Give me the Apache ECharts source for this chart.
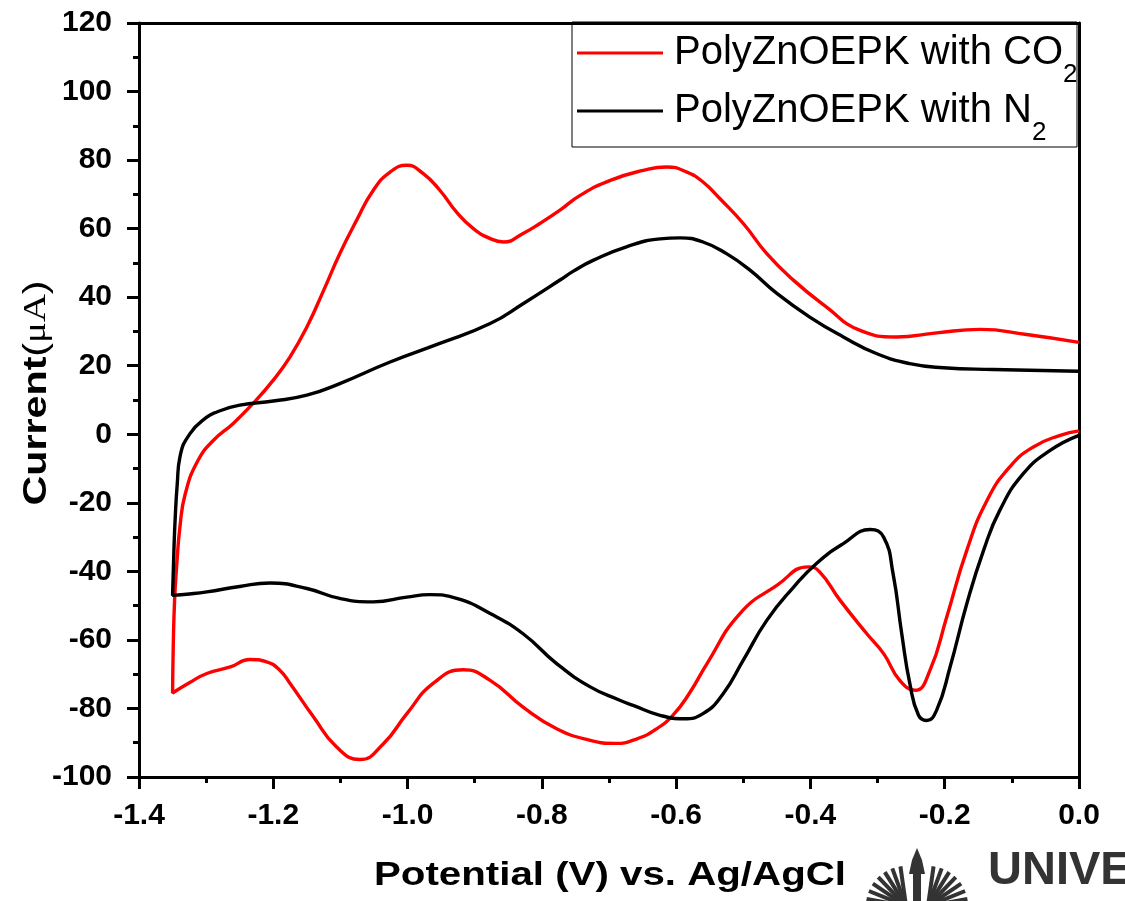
<!DOCTYPE html>
<html>
<head>
<meta charset="utf-8">
<script src="https://cdn.jsdelivr.net/npm/echarts@6/dist/echarts.min.js"></script>
<style>
  html, body { margin: 0; padding: 0; background: #fff; }
  #chart { width: 1125px; height: 901px; }
</style>
</head>
<body>
<div id="chart"></div>
<script>
// Cyclic voltammograms: upper (anodic) branch from 0 V down to -1.35 V, then the lower branch back to 0 V.
const co2Potential = [
  0.000, -0.078, -0.147, -0.212, -0.272, -0.326, -0.376, -0.425, -0.465, -0.500,
  -0.535, -0.560, -0.584, -0.614, -0.649, -0.698, -0.743, -0.773, -0.803, -0.828,
  -0.857, -0.877, -0.902, -0.927, -0.952, -0.977, -1.001, -1.026, -1.051, -1.076,
  -1.101, -1.125, -1.150, -1.175, -1.200, -1.230, -1.260, -1.289, -1.312, -1.331,
  -1.339, -1.344, -1.347, -1.349, -1.350,
  -1.325, -1.299, -1.264, -1.235, -1.210, -1.190, -1.175, -1.140, -1.106, -1.071,
  -1.036, -1.001, -0.962, -0.917, -0.877, -0.828, -0.778, -0.728, -0.690, -0.660,
  -0.632, -0.605, -0.580, -0.554, -0.505, -0.450, -0.403, -0.386, -0.356, -0.316,
  -0.291, -0.267, -0.244, -0.222, -0.197, -0.167, -0.137, -0.103, -0.068, -0.028,
  0.000
];
const co2Current = [
  26.8, 29.1, 30.6, 29.6, 28.4, 30.3, 37.1, 44.9, 52.7, 61.5,
  68.8, 73.6, 76.5, 78.0, 77.0, 74.1, 69.7, 65.4, 61.5, 58.6,
  56.1, 57.1, 60.0, 64.8, 71.2, 76.1, 78.5, 76.5, 71.2, 62.4,
  52.7, 42.0, 31.3, 22.6, 15.8, 9.0, 3.1, -1.75, -7.6, -17.3,
  -27.0, -38.7, -48.4, -62.0, -75.5,
  -72.5, -69.8, -67.9, -65.7, -66.4, -68.9, -72.7, -82.5, -91.2, -94.9,
  -90.3, -81.5, -72.7, -68.7, -71.8, -79.6, -85.9, -89.3, -90.2, -89.0,
  -86.3, -82.0, -75.5, -66.9, -52.3, -44.1, -38.7, -40.2, -48.4, -58.2,
  -64.0, -71.8, -74.7, -68.9, -53.3, -33.8, -19.3, -9.5, -3.7, -0.3,
  1.0
];

const n2Potential = [
  0.000, -0.128, -0.202, -0.252, -0.301, -0.351, -0.401, -0.450, -0.490, -0.525,
  -0.560, -0.594, -0.624, -0.674, -0.723, -0.753, -0.773, -0.828, -0.877, -0.952,
  -1.026, -1.101, -1.150, -1.200, -1.250, -1.284, -1.299, -1.324, -1.339, -1.343,
  -1.346, -1.348, -1.350,
  -1.325, -1.299, -1.250, -1.205, -1.150, -1.101, -1.051, -1.001, -0.967, -0.927,
  -0.877, -0.828, -0.778, -0.728, -0.684, -0.664, -0.624, -0.589, -0.560, -0.530,
  -0.500, -0.465, -0.425, -0.391, -0.351, -0.311, -0.291, -0.277, -0.264, -0.252,
  -0.239, -0.227, -0.212, -0.192, -0.167, -0.142, -0.118, -0.083, -0.043, 0.000
];
const n2Current = [
  18.4, 18.9, 19.4, 20.6, 23.5, 28.4, 34.2, 41.1, 47.9, 52.7,
  56.1, 57.3, 57.0, 54.7, 50.8, 47.6, 45.0, 38.1, 32.3, 26.5,
  21.1, 14.8, 11.4, 9.7, 8.5, 6.5, 5.0, 0.2, -6.6, -14.4,
  -24.1, -33.8, -47.0,
  -46.6, -46.0, -44.4, -43.4, -45.0, -47.9, -48.9, -47.5, -46.8, -47.9,
  -52.3, -58.2, -66.9, -73.7, -77.6, -79.1, -82.0, -83.0, -81.5, -75.7,
  -65.9, -54.3, -44.6, -37.7, -31.9, -27.8, -30.0, -40.6, -58.2, -72.7,
  -82.0, -83.5, -80.5, -67.9, -49.4, -33.8, -22.2, -11.5, -4.7, -0.3
];

const seriesNames = ['PolyZnOEPK with CO2', 'PolyZnOEPK with N2'];
const seriesColors = ['#ff0000', '#000000'];

const xTicks = { min: -1.4, max: 0, interval: 0.2 };
const yTicks = { min: -100, max: 120, interval: 20 };

const xTitle = 'Potential (V) vs. Ag/AgCl';
const yTitle = ['Current', '(', 'μA', ')'];

function pairs(xs, ys) {
  return xs.map((x, i) => [x, ys[i]]);
}

const FONT = '"Liberation Sans", Arial, Helvetica, sans-serif';
const SERIF = '"Liberation Serif", "Times New Roman", serif';

const chart = echarts.init(document.getElementById('chart'), null, { renderer: 'canvas' });

const frameAxis = {
  show: true,
  axisLine: { show: true, onZero: false, lineStyle: { color: '#000', width: 3 } },
  axisTick: { show: false },
  axisLabel: { show: false },
  splitLine: { show: false }
};

// Emblem next to the wordmark: two fans of stripes around a torch
const emblem = [];
for (let i = 0; i < 7; i++) {
  const a = (98 + i * 12) * Math.PI / 180;
  emblem.push({
    type: 'line',
    shape: { x1: 906, y1: 906, x2: 906 + Math.cos(a) * 40, y2: 906 - Math.sin(a) * 40 },
    style: { stroke: '#333', lineWidth: 4 }
  });
  const b = (82 - i * 12) * Math.PI / 180;
  emblem.push({
    type: 'line',
    shape: { x1: 928, y1: 906, x2: 928 + Math.cos(b) * 40, y2: 906 - Math.sin(b) * 40 },
    style: { stroke: '#333', lineWidth: 4 }
  });
}
emblem.push({ type: 'rect', shape: { x: 913, y: 874, width: 8, height: 28 }, style: { fill: '#333' } });
emblem.push({ type: 'polygon', shape: { points: [[909, 874], [925, 874], [922, 860], [917, 848], [912, 860]] }, style: { fill: '#333' } });

chart.setOption({
  animation: false,
  backgroundColor: '#ffffff',
  grid: { left: 139, right: 46, top: 23, bottom: 124 },
  legend: {
    orient: 'vertical',
    left: 577,
    top: 33,
    padding: 0,
    itemGap: 3,
    itemWidth: 86,
    itemHeight: 3,
    icon: 'rect',
    data: seriesNames,
    formatter: function (name) {
      const base = name.slice(0, -1);
      const sub = name.slice(-1);
      return '{t|' + base + '}{s|' + sub + '}';
    },
    textStyle: {
      padding: [0, 0, 0, 6],
      rich: {
        t: { fontFamily: FONT, fontSize: 40, color: '#000', lineHeight: 70 },
        s: { fontFamily: FONT, fontSize: 26, color: '#000', verticalAlign: 'bottom' }
      }
    }
  },
  xAxis: [
    {
      type: 'value',
      min: xTicks.min,
      max: xTicks.max,
      interval: xTicks.interval,
      position: 'bottom',
      axisLine: { show: true, onZero: false, lineStyle: { color: '#000', width: 3 } },
      axisTick: { show: true, inside: false, length: 12, lineStyle: { color: '#000', width: 3 } },
      minorTick: { show: true, splitNumber: 2, length: 6, lineStyle: { color: '#000', width: 3 } },
      axisLabel: {
        margin: 24,
        fontFamily: FONT, fontWeight: 'bold', fontSize: 30, color: '#000',
        formatter: v => v.toFixed(1)
      },
      splitLine: { show: false }
    },
    Object.assign({ type: 'value', min: xTicks.min, max: xTicks.max, position: 'top' }, frameAxis)
  ],
  yAxis: [
    {
      type: 'value',
      min: yTicks.min,
      max: yTicks.max,
      interval: yTicks.interval,
      position: 'left',
      axisLine: { show: true, onZero: false, lineStyle: { color: '#000', width: 3 } },
      axisTick: { show: true, inside: false, length: 12, lineStyle: { color: '#000', width: 3 } },
      minorTick: { show: true, splitNumber: 2, length: 6, lineStyle: { color: '#000', width: 3 } },
      axisLabel: {
        margin: 27,
        fontFamily: FONT, fontWeight: 'bold', fontSize: 30, color: '#000'
      },
      splitLine: { show: false }
    },
    Object.assign({ type: 'value', min: yTicks.min, max: yTicks.max, position: 'right' }, frameAxis)
  ],
  series: [
    {
      name: seriesNames[0],
      type: 'line',
      data: pairs(co2Potential, co2Current),
      smooth: 0.5,
      symbol: 'none',
      color: seriesColors[0],
      lineStyle: { color: seriesColors[0], width: 3.4 }
    },
    {
      name: seriesNames[1],
      type: 'line',
      data: pairs(n2Potential, n2Current),
      smooth: 0.5,
      symbol: 'none',
      color: seriesColors[1],
      lineStyle: { color: seriesColors[1], width: 3.4 }
    }
  ],
  graphic: [
    {
      type: 'rect',
      shape: { x: 572, y: 22, width: 505, height: 125 },
      style: { fill: 'none', stroke: '#000', lineWidth: 1 },
      z: 50
    },
    // Axis titles, drawn wide-set like the rest of the lettering
    {
      type: 'text',
      x: 610,
      y: 876,
      scaleX: 1.22,
      style: {
        text: xTitle,
        font: 'bold 33px ' + FONT,
        fill: '#000',
        align: 'center',
        verticalAlign: 'middle'
      }
    },
    {
      type: 'text',
      x: 37,
      y: 393,
      rotation: Math.PI / 2,
      scaleX: 1.25,
      style: {
        text: '{b|' + yTitle[0] + '}{p|' + yTitle[1] + '}{g|' + yTitle[2] + '}{p|' + yTitle[3] + '}',
        align: 'center',
        verticalAlign: 'middle',
        rich: {
          b: { fontFamily: FONT, fontWeight: 'bold', fontSize: 33, fill: '#000' },
          p: { fontFamily: FONT, fontSize: 33, fill: '#000' },
          g: { fontFamily: SERIF, fontSize: 31, fill: '#000' }
        }
      }
    },
    {
      type: 'text',
      left: 988,
      top: 848,
      style: { text: 'UNIVE', fontFamily: FONT, fontWeight: 'bold', fontSize: 47, fill: '#333' }
    },
    { type: 'group', children: emblem }
  ]
});
</script>
</body>
</html>
